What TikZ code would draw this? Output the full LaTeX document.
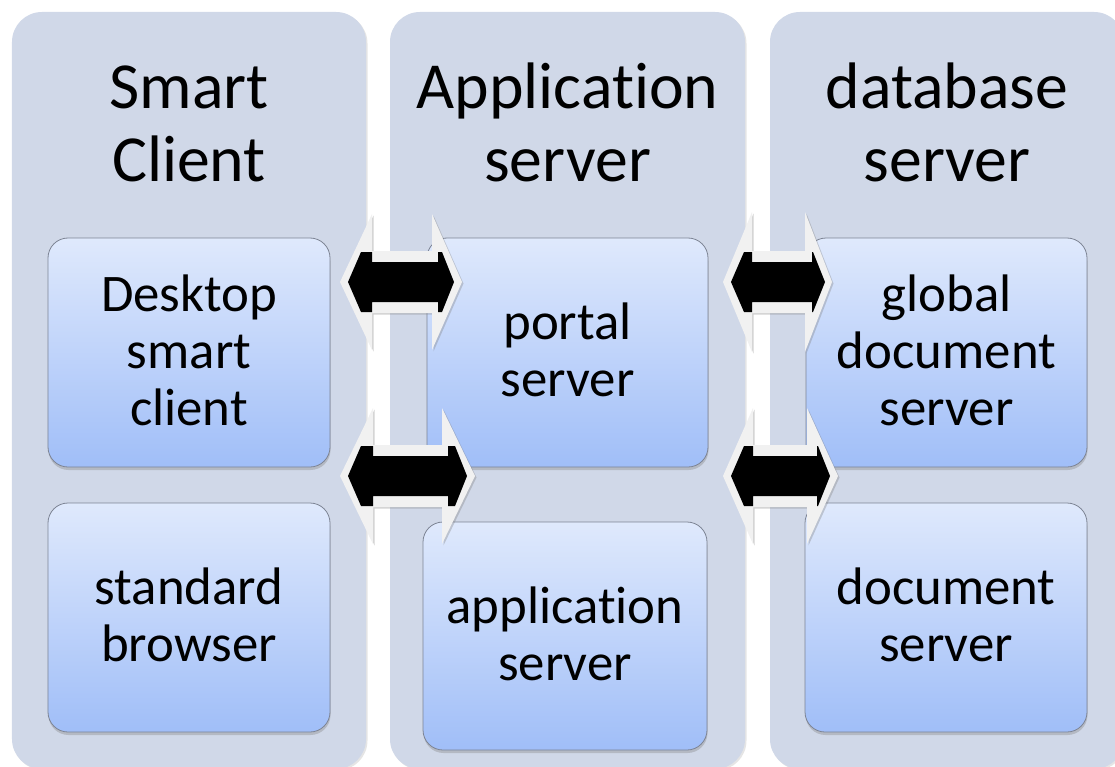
\documentclass[tikz,border=0pt]{standalone}
\usepackage{fontspec}
\setmainfont{Carlito}[Ligatures={NoCommon}]
\usetikzlibrary{shadows}
\definecolor{panelfill}{RGB}{208,216,232}
\definecolor{boxtop}{RGB}{223,233,252}
\definecolor{boxbot}{RGB}{160,190,248}
\definecolor{boxline}{RGB}{125,132,148}
\definecolor{arrowface}{RGB}{241,241,241}
\newcommand\pstrut{\rule[-0.25em]{0pt}{1em}}
\newcommand\istrut{\rule[-0.2em]{0pt}{1em}}
% #1 cy, #2 outer left tip, #3 outer left back, #4 outer right back, #5 outer right tip,
% #6 black left tip, #7 black right back, #8 black right tip, #9 outer head half height
\newcommand\biarrow[9]{%
  \fill[arrowface, drop shadow={shadow xshift=1.5bp, shadow yshift=-1.5bp, opacity=0.35}]
    (#2,#1) -- (#3,#1-#9) -- (#3,#1-31) -- (#4,#1-31) -- (#4,#1-#9) -- (#5,#1)
    -- (#4,#1+#9) -- (#4,#1+31) -- (#3,#1+31) -- (#3,#1+#9) -- cycle;
  \fill[black]
    (#6,#1) -- (#6+13,#1-30) -- (#3,#1-30) -- (#3,#1-20) -- (#7,#1-20) -- (#7,#1-30)
    -- (#8-12,#1-30) -- (#8,#1) -- (#8-12,#1+30) -- (#7,#1+30) -- (#7,#1+20)
    -- (#3,#1+20) -- (#3,#1+30) -- (#6+13,#1+30) -- cycle;
}
\tikzset{
  panel/.style={fill=panelfill, rounded corners=30bp, inner sep=0pt,
    drop shadow={shadow xshift=1.5bp, shadow yshift=-1.5bp, opacity=0.2}},
  title/.style={font=\fontsize{66}{74}\selectfont, align=center, inner sep=0pt},
  item/.style={draw=boxline, line width=0.8bp, rounded corners=20bp,
    top color=boxtop, bottom color=boxbot, minimum width=282bp, minimum height=229bp,
    align=center, inner sep=0pt, font=\fontsize{53}{57}\selectfont,
    drop shadow={shadow xshift=0.5bp, shadow yshift=-3bp, opacity=0.35}},
}
\begin{document}
\begin{tikzpicture}[x=1bp, y=-1bp]
\useasboundingbox (0,0) rectangle (1115,767);
\fill[white] (0,0) rectangle (1115,767);
% panels
\node[panel, minimum width=354bp, minimum height=757bp] (p1) at (189,390.5) {};
\node[panel, minimum width=355bp, minimum height=757bp] (p2) at (567.5,390.5) {};
\node[panel, minimum width=354bp, minimum height=757bp] (p3) at (947,390.5) {};
% titles
\node[title] (t1) at (189,128.5) {\pstrut Smart\\\pstrut Client};
\node[title] (t2) at (567.5,128.5) {\pstrut Application\\\pstrut server};
\node[title] (t3) at (947,128.5) {\pstrut database\\\pstrut server};
% items
\node[item] (d1) at (189,352.5) {\istrut Desktop\\\istrut smart\\\istrut client};
\node[item] (d2) at (189,617.5) {\istrut standard\\\istrut browser};
\node[item, minimum width=281bp] (a1) at (567.5,352.5) {\istrut portal\\\istrut server};
\node[item, minimum width=284bp, minimum height=228bp] (a2) at (565,636) {\istrut application\\\istrut server};
\node[item, minimum width=281bp] (g1) at (946.5,352.5) {\istrut global\\\istrut document\\\istrut server};
\node[item] (g2) at (946,617.5) {\istrut document\\\istrut server};
% double arrows
\biarrow{282}{340}{372}{432}{462}{348}{438}{454}{68}
\biarrow{476}{340}{373}{442}{475}{348}{448}{467}{68}
\biarrow{282}{723}{752}{805}{832}{731}{812}{825}{70}
\biarrow{476}{723}{753}{807}{838}{731}{817}{830}{68}
\end{tikzpicture}
\end{document}
